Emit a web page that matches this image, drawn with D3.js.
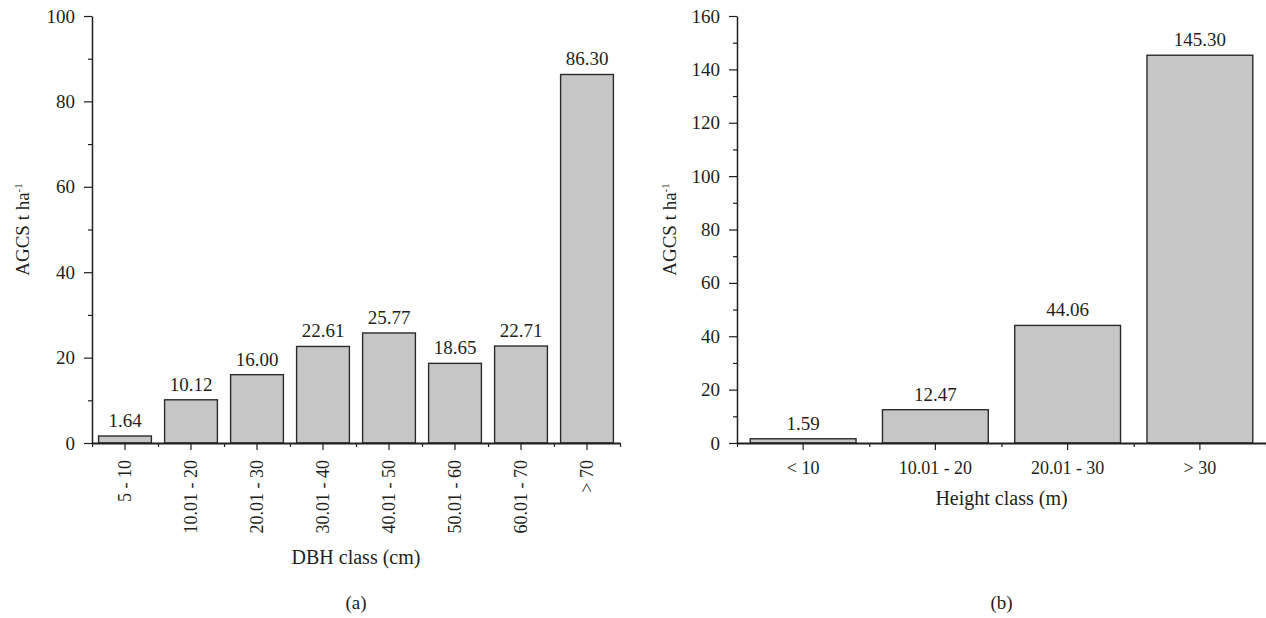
<!DOCTYPE html>
<html>
  <head>
    <title>AGCS by class</title>
    <script src="https://d3js.org/d3.v7.min.js"></script>
    <style>
      body { margin: 0; background: #fff; }
      svg { display: block; }
      text { font-family: "Liberation Serif", "DejaVu Serif", serif; fill: #231f20; }
      .axis path, .axis line { stroke: #231f20; }
    </style>
  </head>
  <body>
    <script>
      // panel (a)
      const dbhClasses = ['5 - 10', '10.01 - 20', '20.01 - 30', '30.01 - 40', '40.01 - 50', '50.01 - 60', '60.01 - 70', '> 70'];
      const dbhValues = [1.64, 10.12, 16.00, 22.61, 25.77, 18.65, 22.71, 86.30];
      const dbhTicks = [0, 20, 40, 60, 80, 100];
      // panel (b)
      const heightClasses = ['< 10', '10.01 - 20', '20.01 - 30', '> 30'];
      const heightValues = [1.59, 12.47, 44.06, 145.30];
      const heightTicks = [0, 20, 40, 60, 80, 100, 120, 140, 160];

      const w = 1266, h = 618;
      const plotTop = 16, plotBottom = 443;

      const svg = d3.select('body').append('svg')
                    .attr('width', w)
                    .attr('height', h);

      function panel(opts) {
        const g = svg.append('g');
        const n = opts.cats.length;

        const x = d3.scaleBand()
                    .domain(opts.cats)
                    .range([opts.x0, opts.x1])
                    .paddingInner(0.2)
                    .paddingOuter(0.1);
        const xEdge = d3.scaleLinear().domain([0, n]).range([opts.x0, opts.x1]);
        const y = d3.scaleLinear().domain([0, opts.ymax]).range([plotBottom, plotTop]);

        // bars
        g.selectAll('rect.bar')
         .data(opts.vals)
         .enter()
         .append('rect')
         .attr('class', 'bar')
         .attr('x', (d, i) => x(opts.cats[i]))
         .attr('width', x.bandwidth())
         .attr('y', d => y(d))
         .attr('height', d => y(0) - y(d))
         .attr('fill', '#c6c6c6')
         .attr('stroke', '#2b2b2b')
         .attr('stroke-width', 1.4);

        // value labels
        g.selectAll('text.val')
         .data(opts.vals)
         .enter()
         .append('text')
         .attr('class', 'val')
         .attr('x', (d, i) => x(opts.cats[i]) + x.bandwidth() / 2)
         .attr('y', d => y(d) - 9)
         .attr('text-anchor', 'middle')
         .style('font-size', '19px')
         .text(d => d.toFixed(2));

        // y axis, minor then major
        const minor = d3.range(10, opts.ymax, 20);
        g.append('g')
         .attr('class', 'axis')
         .attr('transform', `translate(${opts.x0}, 0)`)
         .call(d3.axisLeft(y).tickValues(minor).tickSize(4).tickFormat(''))
         .call(a => a.select('.domain').remove())
         .selectAll('line').attr('stroke-width', 1.2);

        const ya = g.append('g')
                    .attr('class', 'axis')
                    .attr('transform', `translate(${opts.x0}, 0)`)
                    .call(d3.axisLeft(y).tickValues(opts.yticks).tickSize(8).tickSizeOuter(0).tickPadding(9));
        ya.select('.domain').attr('stroke-width', 1.5);
        ya.selectAll('line').attr('stroke-width', 1.2);
        ya.selectAll('text').style('font-size', '19px').attr('fill', '#231f20');

        // x axis: boundary ticks (short) and center ticks (long)
        const xe = g.append('g')
                    .attr('class', 'axis')
                    .attr('transform', `translate(0, ${plotBottom})`)
                    .call(d3.axisBottom(xEdge).tickValues(d3.range(0, n + 1)).tickSize(4).tickSizeOuter(0).tickFormat(''));
        xe.select('.domain').attr('stroke-width', 2);
        xe.selectAll('line').attr('stroke-width', 1.2);

        const xa = g.append('g')
                    .attr('class', 'axis')
                    .attr('transform', `translate(0, ${plotBottom})`)
                    .call(d3.axisBottom(x).tickSize(7).tickSizeOuter(0));
        xa.select('.domain').remove();
        xa.selectAll('line').attr('stroke-width', 1.2);
        const tl = xa.selectAll('text').style('font-size', '18px').attr('fill', '#231f20');
        if (opts.rotate) {
          tl.attr('transform', 'rotate(-90)')
            .attr('text-anchor', 'end')
            .attr('x', -17)
            .attr('y', 0)
            .attr('dy', '0.35em');
        } else {
          tl.attr('y', 31).attr('dy', 0);
        }

        const cx = (opts.x0 + opts.x1) / 2;
        g.append('text')
         .attr('x', cx)
         .attr('y', opts.titleY)
         .attr('text-anchor', 'middle')
         .style('font-size', '20px')
         .text(opts.xTitle);

        const yt = g.append('text')
                    .attr('transform', `translate(${opts.yTitleX}, ${(plotTop + plotBottom) / 2}) rotate(-90)`)
                    .attr('text-anchor', 'middle')
                    .style('font-size', '19px');
        yt.append('tspan').text('AGCS t ha');
        yt.append('tspan').attr('dy', -7).style('font-size', '11px').text('-1');

        g.append('text')
         .attr('x', cx)
         .attr('y', 609)
         .attr('text-anchor', 'middle')
         .style('font-size', '19px')
         .text(opts.tag);
      }

      panel({
        cats: dbhClasses, vals: dbhValues, yticks: dbhTicks, ymax: 100,
        x0: 92, x1: 620, rotate: true,
        xTitle: 'DBH class (cm)', titleY: 564, yTitleX: 29, tag: '(a)'
      });

      panel({
        cats: heightClasses, vals: heightValues, yticks: heightTicks, ymax: 160,
        x0: 737, x1: 1266, rotate: false,
        xTitle: 'Height class (m)', titleY: 505, yTitleX: 676, tag: '(b)'
      });
    </script>
  </body>
</html>
